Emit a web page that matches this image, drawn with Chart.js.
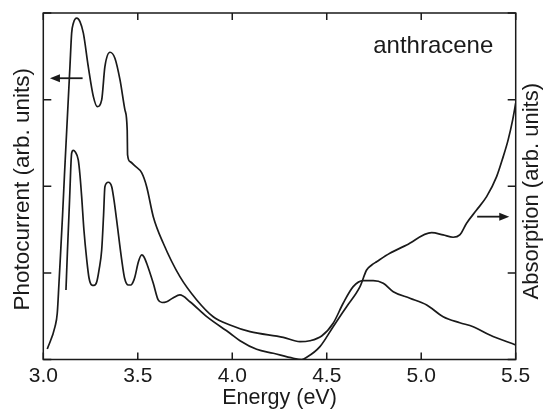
<!DOCTYPE html>
<html>
<head>
<meta charset="utf-8">
<script src="https://cdn.jsdelivr.net/npm/chart.js@4"></script>
<style>
  html, body { margin: 0; padding: 0; background: #fff; }
  #wrap { width: 543px; height: 413px; }
</style>
</head>
<body>
<div id="wrap"><canvas id="chart" width="543" height="413"></canvas></div>
<script>
// photocurrent curve (left axis)
const pcEnergy = [3.021, 3.062, 3.074, 3.083, 3.091, 3.102, 3.112, 3.124, 3.141, 3.150, 3.159, 3.177, 3.194, 3.212,
  3.238, 3.265, 3.286, 3.309, 3.326, 3.353, 3.379, 3.406, 3.432, 3.444, 3.446, 3.459, 3.485, 3.521, 3.547, 3.582,
  3.635, 3.723, 3.812, 3.899, 3.988, 4.094, 4.270, 4.358, 4.411, 4.473, 4.534, 4.587, 4.640, 4.693, 4.746, 4.799,
  4.852, 4.940, 5.029, 5.116, 5.204, 5.275, 5.363, 5.500];
const pcValue = [0.121, 0.379, 0.537, 0.883, 1.207, 1.669, 2.130, 2.650, 3.381, 3.767, 3.882, 3.940, 3.901, 3.767,
  3.381, 3.035, 2.919, 2.997, 3.381, 3.547, 3.478, 3.227, 2.881, 2.650, 2.361, 2.284, 2.234, 2.154, 1.995, 1.649,
  1.342, 0.956, 0.687, 0.494, 0.398, 0.321, 0.256, 0.206, 0.217, 0.271, 0.418, 0.649, 0.841, 0.910, 0.910, 0.880,
  0.783, 0.707, 0.629, 0.494, 0.425, 0.379, 0.283, 0.167];

// absorption curve (right axis)
const absEnergy = [3.120, 3.128, 3.139, 3.150, 3.159, 3.168, 3.185, 3.194, 3.203, 3.215, 3.230, 3.242, 3.256, 3.268,
  3.283, 3.295, 3.309, 3.319, 3.326, 3.344, 3.362, 3.374, 3.388, 3.415, 3.430, 3.450, 3.464, 3.476, 3.485, 3.503,
  3.521, 3.533, 3.547, 3.582, 3.608, 3.628, 3.653, 3.686, 3.723, 3.776, 3.865, 3.988, 4.041, 4.129, 4.217, 4.323,
  4.367, 4.394, 4.464, 4.534, 4.605, 4.676, 4.711, 4.738, 4.764, 4.834, 4.923, 5.055, 5.116, 5.169, 5.204, 5.240,
  5.293, 5.346, 5.399, 5.434, 5.460, 5.484, 5.500];
const absValue = [0.803, 1.264, 1.842, 2.381, 2.413, 2.400, 2.304, 2.130, 1.880, 1.495, 1.149, 0.941, 0.860, 0.855,
  0.898, 1.034, 1.264, 1.669, 1.995, 2.046, 1.995, 1.842, 1.611, 1.149, 0.941, 0.860, 0.860, 0.898, 0.956, 1.126,
  1.207, 1.184, 1.111, 0.880, 0.687, 0.658, 0.667, 0.710, 0.745, 0.667, 0.494, 0.303, 0.217, 0.118, 0.072, 0.014,
  0.000, 0.025, 0.148, 0.379, 0.610, 0.841, 1.033, 1.091, 1.129, 1.226, 1.322, 1.464, 1.438, 1.411, 1.438, 1.573,
  1.726, 1.880, 2.111, 2.342, 2.535, 2.766, 2.958];

const xTicks = [3.0, 3.5, 4.0, 4.5, 5.0, 5.5];
const yTicks = [0, 1, 2, 3, 4];

const FONT = '"Liberation Sans", Arial, Helvetica, sans-serif';
const INK = '#1a1a1a';

function toPoints(xs, ys) {
  return xs.map((x, i) => ({ x: x, y: ys[i] }));
}

// frame, inward ticks, arrows, axis titles and the sample label
const decorations = {
  id: 'decorations',
  afterDatasetsDraw(chart) {
    const ctx = chart.ctx;
    const a = chart.chartArea;
    const xs = chart.scales.x, yl = chart.scales.y, yr = chart.scales.y2;
    ctx.save();
    ctx.strokeStyle = INK;
    ctx.lineWidth = 1.5;
    ctx.strokeRect(a.left, a.top, a.right - a.left, a.bottom - a.top);

    ctx.beginPath();
    xTicks.forEach(t => {
      const px = xs.getPixelForValue(t);
      ctx.moveTo(px, a.bottom); ctx.lineTo(px, a.bottom - 7);
      ctx.moveTo(px, a.top); ctx.lineTo(px, a.top + 7);
    });
    yTicks.forEach(t => {
      const py = yl.getPixelForValue(t);
      ctx.moveTo(a.left, py); ctx.lineTo(a.left + 8, py);
      const pr = yr.getPixelForValue(t);
      ctx.moveTo(a.right, pr); ctx.lineTo(a.right - 8, pr);
    });
    ctx.stroke();

    // arrows
    function arrow(x0, x1, yv, scaleY) {
      const p0 = xs.getPixelForValue(x0), p1 = xs.getPixelForValue(x1);
      const py = scaleY.getPixelForValue(yv);
      const dir = Math.sign(p1 - p0);
      ctx.beginPath();
      ctx.lineWidth = 1.8;
      ctx.moveTo(p0, py); ctx.lineTo(p1 - dir * 6, py);
      ctx.stroke();
      ctx.beginPath();
      ctx.fillStyle = INK;
      ctx.moveTo(p1, py);
      ctx.lineTo(p1 - dir * 10, py - 4);
      ctx.lineTo(p1 - dir * 10, py + 4);
      ctx.closePath();
      ctx.fill();
    }
    arrow(3.208, 3.035, 3.247, yl);
    arrow(5.296, 5.466, 1.649, yr);

    ctx.fillStyle = INK;
    ctx.textBaseline = 'alphabetic';
    ctx.font = '24px ' + FONT;
    ctx.textAlign = 'left';
    ctx.fillText('anthracene', xs.getPixelForValue(4.746), yl.getPixelForValue(3.536));

    // axis titles
    const midY = (a.top + a.bottom) / 2;
    ctx.textAlign = 'center';
    ctx.font = '21.5px ' + FONT;
    ctx.fillText('Energy (eV)', (a.left + a.right) / 2, 404);

    ctx.font = '22.5px ' + FONT;
    ctx.save();
    ctx.translate(28.5, midY + 3);
    ctx.rotate(-Math.PI / 2);
    ctx.fillText('Photocurrent (arb. units)', 0, 0);
    ctx.restore();

    ctx.font = '22px ' + FONT;
    ctx.save();
    ctx.translate(538, midY + 5);
    ctx.rotate(-Math.PI / 2);
    ctx.fillText('Absorption (arb. units)', 0, 0);
    ctx.restore();
    ctx.restore();
  }
};

new Chart(document.getElementById('chart'), {
  type: 'line',
  data: {
    datasets: [
      {
        label: 'Photocurrent',
        data: toPoints(pcEnergy, pcValue),
        yAxisID: 'y',
        borderColor: INK,
        borderWidth: 1.7,
        pointRadius: 0,
        cubicInterpolationMode: 'monotone',
        fill: false
      },
      {
        label: 'Absorption',
        data: toPoints(absEnergy, absValue),
        yAxisID: 'y2',
        borderColor: INK,
        borderWidth: 1.7,
        pointRadius: 0,
        cubicInterpolationMode: 'monotone',
        fill: false
      }
    ]
  },
  options: {
    responsive: false,
    animation: false,
    layout: { padding: { top: 13, left: 0, right: 0, bottom: 0 } },
    plugins: { legend: { display: false }, tooltip: { enabled: false } },
    scales: {
      x: {
        type: 'linear',
        min: 3.0,
        max: 5.5,
        afterFit(scale) { scale.height = 53.5; },
        afterBuildTicks(scale) { scale.ticks = xTicks.map(v => ({ value: v })); },
        grid: { display: false },
        border: { display: false },
        ticks: {
          color: INK,
          font: { family: FONT, size: 21 },
          padding: -4,
          maxRotation: 0,
          callback: v => v.toFixed(1)
        }
      },
      y: {
        position: 'left',
        min: 0,
        max: 4,
        afterFit(scale) { scale.width = 43.3; },
        grid: { display: false },
        border: { display: false },
        ticks: { display: false }
      },
      y2: {
        position: 'right',
        min: 0,
        max: 4,
        afterFit(scale) { scale.width = 27.3; },
        grid: { display: false },
        border: { display: false },
        ticks: { display: false }
      }
    }
  },
  plugins: [decorations]
});
</script>
</body>
</html>
